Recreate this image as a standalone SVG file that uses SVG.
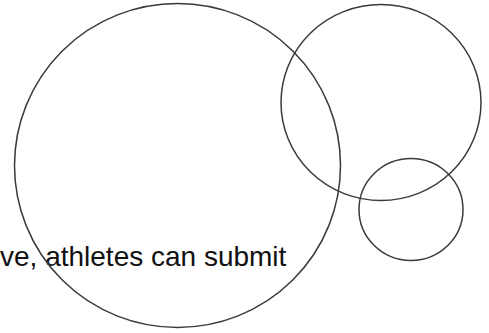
<svg xmlns="http://www.w3.org/2000/svg" width="489" height="333" viewBox="0 0 489 333">
<style>
.c{fill:none;stroke:#3a3a3a;stroke-width:1.5}
.t{font-family:"Liberation Sans",Arial,sans-serif;font-size:28px;fill:#111}
</style>
<rect width="489" height="333" fill="#fff"/>
<g id="label"><text class="t" x="0" y="266">ve, athletes can submit</text></g>
<g id="circle-large"><ellipse class="c" cx="177.5" cy="165.5" rx="163" ry="162"/></g>
<g id="circle-upper"><ellipse class="c" cx="381" cy="102.5" rx="100" ry="98"/></g>
<g id="circle-small"><ellipse class="c" cx="411" cy="209.5" rx="52" ry="51"/></g>
</svg>
